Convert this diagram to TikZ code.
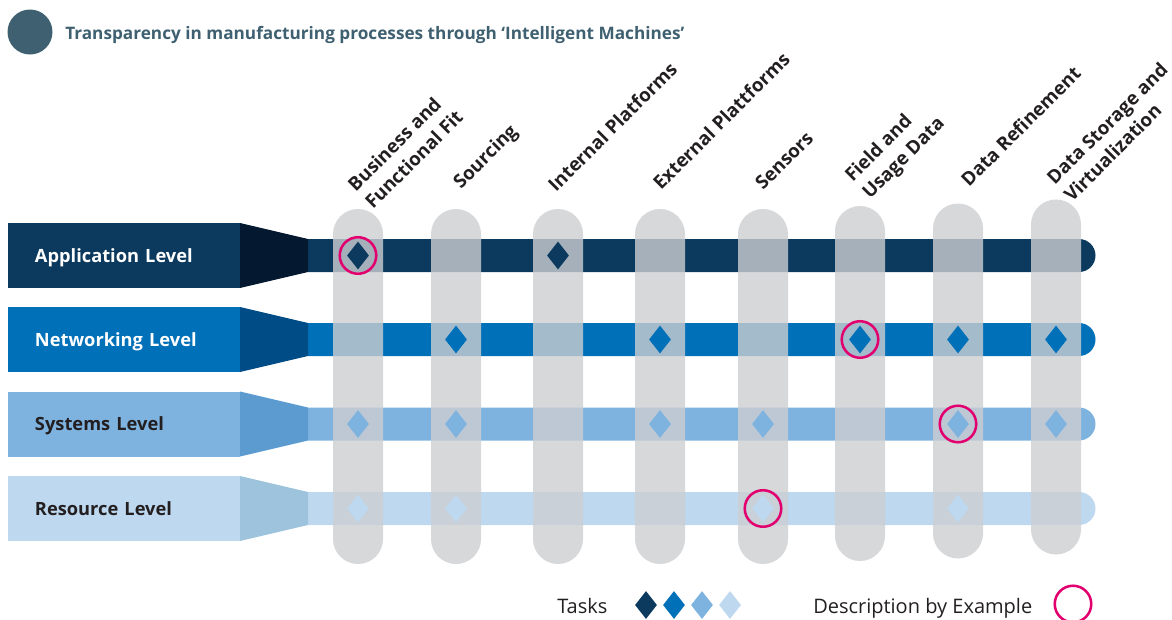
\documentclass[tikz,border=0pt]{standalone}
\usepackage{fontspec}
\setmainfont{Open Sans}
\usetikzlibrary{shapes.geometric}
\definecolor{appc}{HTML}{0B3A5E}
\definecolor{apptr}{HTML}{04182F}
\definecolor{netc}{HTML}{0070B8}
\definecolor{nettr}{HTML}{004C86}
\definecolor{sysc}{HTML}{7EB3E0}
\definecolor{systr}{HTML}{5B9BCF}
\definecolor{resc}{HTML}{BDD8EF}
\definecolor{restr}{HTML}{9EC4DD}
\definecolor{colgray}{HTML}{CDCED1}
\definecolor{pinkc}{HTML}{E2006F}
\definecolor{titlec}{HTML}{3E6070}
\definecolor{txt}{HTML}{231F20}
\begin{document}
\begin{tikzpicture}[x=0.75pt,y=-0.75pt,
  levelbox/.style={rectangle, minimum height=48.75pt, text width=133.5pt, text height=9.8pt, text depth=0pt, inner xsep=20.25pt, inner ysep=0pt, align=left, font=\bfseries\fontsize{13.7}{16}\selectfont},
  colpill/.style={rectangle, fill=colgray, fill opacity=0.8, rounded corners=18.75pt, minimum width=37.5pt, minimum height=266.25pt, inner sep=0pt},
  task/.style={diamond, minimum width=16.5pt, minimum height=21pt, inner sep=0pt},
  example/.style={circle, draw=pinkc, line width=1.9pt, minimum size=27.4pt, inner sep=0pt},
  collabel/.style={rotate=45, anchor=base west, align=left, inner sep=0pt, text=txt, font=\bfseries\fontsize{14.1}{18.4}\selectfont},
  legend/.style={anchor=base west, inner sep=0pt, text=txt, font=\fontsize{15}{18}\selectfont}]
\useasboundingbox (0,0) rectangle (1172,619);

% title
\node[circle, fill=titlec, minimum size=33.75pt, inner sep=0pt] (tdot) at (30,32) {};
\node[anchor=base west, inner sep=0pt, text=titlec, font=\bfseries\fontsize{12.9}{15}\selectfont] (title) at (65,39) {Transparency in manufacturing processes through ‘Intelligent Machines’};

% bars
\foreach \c/\bar/\tr/\nm in {255.5/appc/apptr/a, 339.5/netc/nettr/n, 424/sysc/systr/s, 508.5/resc/restr/r}{
  \fill[\bar] (308,\c-16.5) -- (1079,\c-16.5) arc[start angle=-90, end angle=90, radius=16.5] -- (308,\c+16.5) -- cycle;
  \fill[\tr] (240,\c-32.5) -- (308,\c-16.5) -- (308,\c+16.5) -- (240,\c+32.5) -- cycle;
}

% level boxes
\node[levelbox, fill=appc, text=white] (lapp) at (124,255.5) {Application Level};
\node[levelbox, fill=netc, text=white] (lnet) at (124,339.5) {Networking Level};
\node[levelbox, fill=sysc, text=txt] (lsys) at (124,424) {Systems Level};
\node[levelbox, fill=resc, text=txt] (lres) at (124,508.5) {Resource Level};

% columns
\foreach \i/\x/\y in {1/358/386.5, 2/456/386.5, 3/558/386.5, 4/660/386.5, 5/763/386.5, 6/860/383.5, 7/958/381, 8/1056/377}{
  \node[colpill] (col\i) at (\x,\y) {};
}

% column labels
\node[collabel] (l1) at (373,210) {Business and\\Functional Fit};
\node[collabel] (l2) at (461,190) {Sourcing};
\node[collabel] (l3) at (556,193) {Internal Platforms};
\node[collabel] (l4) at (661,191) {External Plattforms};
\node[collabel] (l5) at (763,191) {Sensors};
\node[collabel] (l6) at (870,200) {Field and\\Usage Data};
\node[collabel] (l7) at (969,188) {Data Refinement};
\node[collabel] (l8) at (1072,203) {Data Storage and\\Virtualization};

% tasks
\foreach \i in {1,3}{\node[task, fill=appc] (da\i) at (col\i |- 0,255.5) {};}
\foreach \i in {2,4,6,7,8}{\node[task, fill=netc] (dn\i) at (col\i |- 0,339.5) {};}
\foreach \i in {1,2,4,5,7,8}{\node[task, fill=sysc] (ds\i) at (col\i |- 0,424) {};}
\foreach \i in {1,2,5,7}{\node[task, fill=resc] (dr\i) at (col\i |- 0,508.5) {};}

% examples
\node[example] (ea) at (da1) {};
\node[example] (en) at (dn6) {};
\node[example] (es) at (ds7) {};
\node[example] (er) at (dr5) {};

% legend
\node[legend] (ltasks) at (557,613) {Tasks};
\node[task, fill=appc] (k1) at (646,605) {};
\node[task, fill=netc] (k2) at (674,605) {};
\node[task, fill=sysc] (k3) at (702,605) {};
\node[task, fill=resc] (k4) at (730,605) {};
\node[legend] (ldesc) at (813,613) {Description by Example};
\node[example] (kex) at (1073,604) {};
\end{tikzpicture}
\end{document}
